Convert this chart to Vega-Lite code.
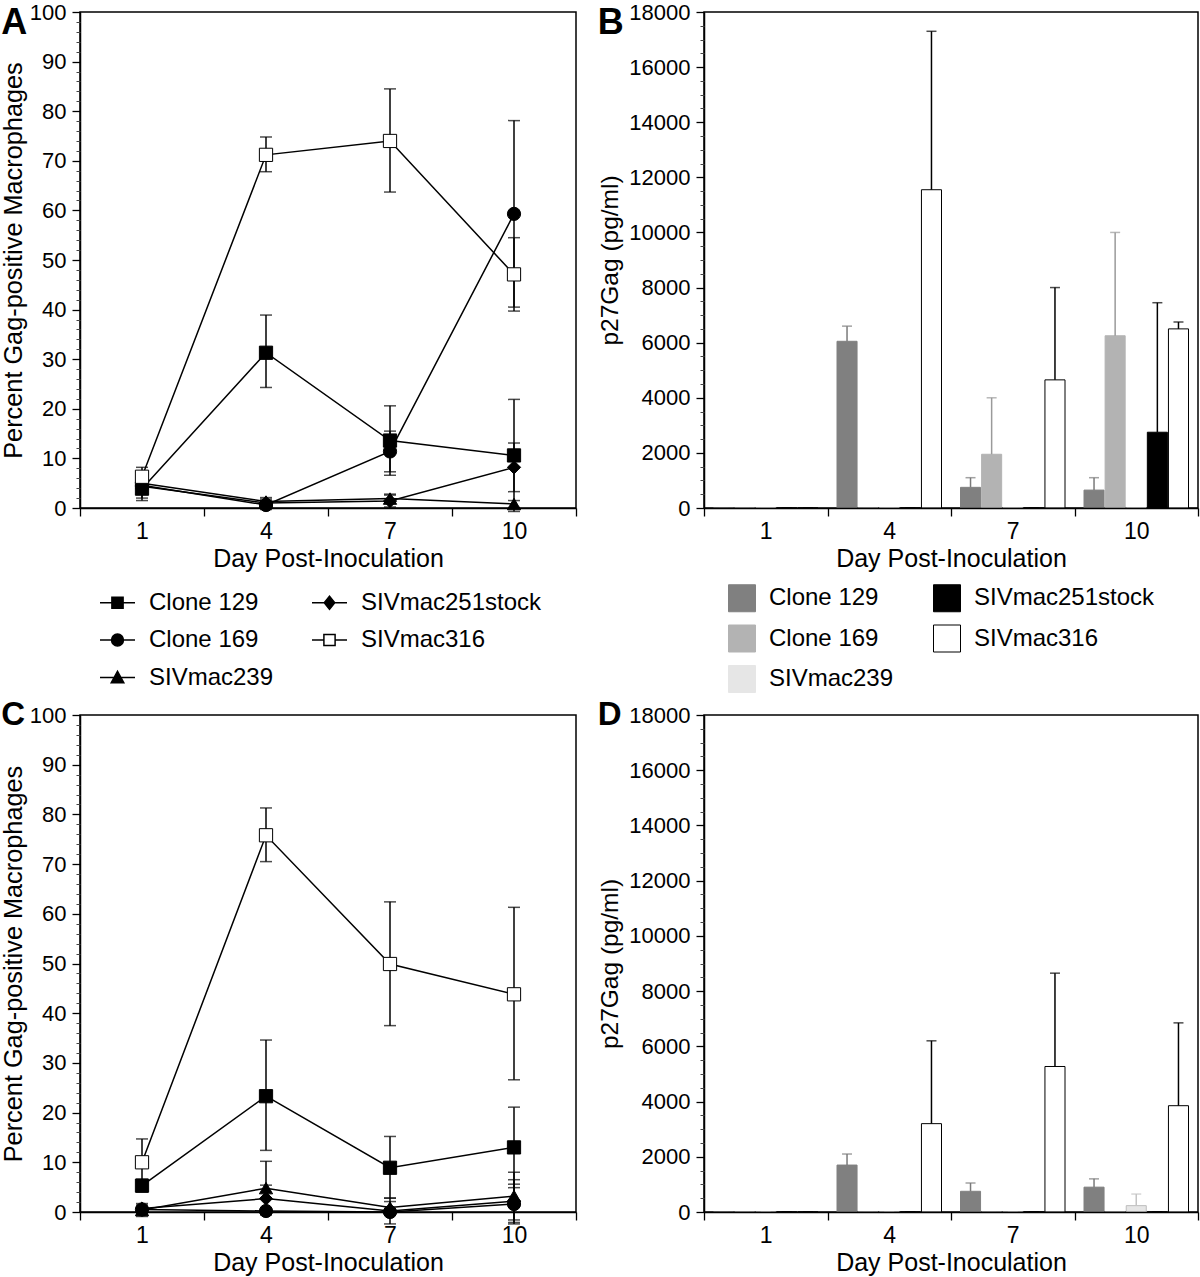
{
  "$schema": "https://vega.github.io/schema/vega-lite/v6.json",
  "padding": {"left": 0, "top": 0, "right": 0, "bottom": 0},
  "background": "white",
  "config": {
    "font": "Liberation Sans",
    "view": {"stroke": "black", "strokeWidth": 1.5},
    "axis": {
      "labelFont": "Liberation Sans", "titleFont": "Liberation Sans",
      "labelColor": "black", "titleColor": "black", "domainColor": "black", "tickColor": "black",
      "labelFontSize": 23, "titleFontSize": 24.5, "titleFontWeight": "normal",
      "grid": false, "domainWidth": 1.5, "tickWidth": 1.3
    },
    "axisX": {"titleFontSize": 25},
    "legend": {"labelFont": "Liberation Sans", "labelFontSize": 24, "labelColor": "black", "labelLimit": 400, "padding": 0},
    "title": {"anchor": "start", "frame": "bounds", "font": "Liberation Sans", "fontWeight": "bold", "color": "black", "offset": 0, "baseline": "alphabetic"}
  },
  "datasets": {
    "lineA": [
      {"day": 1, "series": "Clone 129", "value": 3.9, "lo": 2.0, "hi": 5.8},
      {"day": 4, "series": "Clone 129", "value": 31.3, "lo": 24.3, "hi": 38.9},
      {"day": 7, "series": "Clone 129", "value": 13.6, "lo": 6.6, "hi": 20.6},
      {"day": 10, "series": "Clone 129", "value": 10.6, "lo": -0.7, "hi": 21.9},
      {"day": 1, "series": "Clone 169", "value": 4.6, "lo": 2.8, "hi": 6.4},
      {"day": 4, "series": "Clone 169", "value": 0.6, "lo": -0.3, "hi": 1.5},
      {"day": 7, "series": "Clone 169", "value": 11.4, "lo": 7.3, "hi": 15.5},
      {"day": 10, "series": "Clone 169", "value": 59.3, "lo": 40.5, "hi": 78.1},
      {"day": 1, "series": "SIVmac239", "value": 5.0, "lo": 3.2, "hi": 6.8},
      {"day": 4, "series": "SIVmac239", "value": 1.3, "lo": 0.5, "hi": 2.1},
      {"day": 7, "series": "SIVmac239", "value": 1.9, "lo": 1.0, "hi": 2.8},
      {"day": 10, "series": "SIVmac239", "value": 0.8, "lo": 0.1, "hi": 1.5},
      {"day": 1, "series": "SIVmac251stock", "value": 4.4, "lo": 1.5, "hi": 7.3},
      {"day": 4, "series": "SIVmac251stock", "value": 1.0, "lo": 0.2, "hi": 1.8},
      {"day": 7, "series": "SIVmac251stock", "value": 1.4, "lo": 0.2, "hi": 2.6},
      {"day": 10, "series": "SIVmac251stock", "value": 8.2, "lo": 3.3, "hi": 13.1},
      {"day": 1, "series": "SIVmac316", "value": 6.3, "lo": 4.4, "hi": 8.2},
      {"day": 4, "series": "SIVmac316", "value": 71.2, "lo": 67.8, "hi": 74.8},
      {"day": 7, "series": "SIVmac316", "value": 74.0, "lo": 63.7, "hi": 84.5},
      {"day": 10, "series": "SIVmac316", "value": 47.1, "lo": 39.7, "hi": 54.5}
    ],
    "lineC": [
      {"day": 1, "series": "Clone 129", "value": 5.3, "lo": 4.0, "hi": 6.6},
      {"day": 4, "series": "Clone 129", "value": 23.3, "lo": 12.4, "hi": 34.6},
      {"day": 7, "series": "Clone 129", "value": 8.9, "lo": 2.8, "hi": 15.2},
      {"day": 10, "series": "Clone 129", "value": 13.0, "lo": 4.9, "hi": 21.1},
      {"day": 1, "series": "Clone 169", "value": 0.5, "lo": -0.5, "hi": 1.0},
      {"day": 4, "series": "Clone 169", "value": 0.2, "lo": -0.2, "hi": 0.5},
      {"day": 7, "series": "Clone 169", "value": 0.0, "lo": -0.3, "hi": 0.3},
      {"day": 10, "series": "Clone 169", "value": 1.6, "lo": -2.4, "hi": 5.6},
      {"day": 1, "series": "SIVmac239", "value": 0.4, "lo": -0.9, "hi": 1.7},
      {"day": 4, "series": "SIVmac239", "value": 4.8, "lo": -0.6, "hi": 10.2},
      {"day": 7, "series": "SIVmac239", "value": 0.9, "lo": -0.3, "hi": 2.1},
      {"day": 10, "series": "SIVmac239", "value": 3.2, "lo": -1.6, "hi": 8.0},
      {"day": 1, "series": "SIVmac251stock", "value": 0.7, "lo": 0.0, "hi": 1.4},
      {"day": 4, "series": "SIVmac251stock", "value": 2.7, "lo": 0.0, "hi": 5.4},
      {"day": 7, "series": "SIVmac251stock", "value": 0.2, "lo": -2.4, "hi": 2.8},
      {"day": 10, "series": "SIVmac251stock", "value": 2.2, "lo": -2.1, "hi": 6.5},
      {"day": 1, "series": "SIVmac316", "value": 10.0, "lo": 5.3, "hi": 14.7},
      {"day": 4, "series": "SIVmac316", "value": 75.8, "lo": 70.5, "hi": 81.3},
      {"day": 7, "series": "SIVmac316", "value": 49.9, "lo": 37.5, "hi": 62.4},
      {"day": 10, "series": "SIVmac316", "value": 43.8, "lo": 26.6, "hi": 61.3}
    ],
    "barB": [
      {"day": 1, "series": "Clone 129", "value": 0, "err": 0},
      {"day": 1, "series": "Clone 169", "value": 0, "err": 0},
      {"day": 1, "series": "SIVmac239", "value": 0, "err": 0},
      {"day": 1, "series": "SIVmac251stock", "value": 0, "err": 0},
      {"day": 1, "series": "SIVmac316", "value": 0, "err": 0},
      {"day": 4, "series": "Clone 129", "value": 6050, "err": 6600},
      {"day": 4, "series": "Clone 169", "value": 0, "err": 0},
      {"day": 4, "series": "SIVmac239", "value": 0, "err": 0},
      {"day": 4, "series": "SIVmac251stock", "value": 0, "err": 0},
      {"day": 4, "series": "SIVmac316", "value": 11550, "err": 17300},
      {"day": 7, "series": "Clone 129", "value": 750, "err": 1100},
      {"day": 7, "series": "Clone 169", "value": 1950, "err": 4000},
      {"day": 7, "series": "SIVmac239", "value": 0, "err": 0},
      {"day": 7, "series": "SIVmac251stock", "value": 0, "err": 0},
      {"day": 7, "series": "SIVmac316", "value": 4650, "err": 8000},
      {"day": 10, "series": "Clone 129", "value": 650, "err": 1100},
      {"day": 10, "series": "Clone 169", "value": 6250, "err": 10000},
      {"day": 10, "series": "SIVmac239", "value": 0, "err": 0},
      {"day": 10, "series": "SIVmac251stock", "value": 2750, "err": 7450},
      {"day": 10, "series": "SIVmac316", "value": 6500, "err": 6750}
    ],
    "barD": [
      {"day": 1, "series": "Clone 129", "value": 0, "err": 0},
      {"day": 1, "series": "Clone 169", "value": 0, "err": 0},
      {"day": 1, "series": "SIVmac239", "value": 0, "err": 0},
      {"day": 1, "series": "SIVmac251stock", "value": 0, "err": 0},
      {"day": 1, "series": "SIVmac316", "value": 0, "err": 0},
      {"day": 4, "series": "Clone 129", "value": 1700, "err": 2100},
      {"day": 4, "series": "Clone 169", "value": 0, "err": 0},
      {"day": 4, "series": "SIVmac239", "value": 0, "err": 0},
      {"day": 4, "series": "SIVmac251stock", "value": 0, "err": 0},
      {"day": 4, "series": "SIVmac316", "value": 3200, "err": 6200},
      {"day": 7, "series": "Clone 129", "value": 750, "err": 1050},
      {"day": 7, "series": "Clone 169", "value": 0, "err": 0},
      {"day": 7, "series": "SIVmac239", "value": 0, "err": 0},
      {"day": 7, "series": "SIVmac251stock", "value": 0, "err": 0},
      {"day": 7, "series": "SIVmac316", "value": 5270, "err": 8650},
      {"day": 10, "series": "Clone 129", "value": 900, "err": 1200},
      {"day": 10, "series": "Clone 169", "value": 0, "err": 0},
      {"day": 10, "series": "SIVmac239", "value": 230, "err": 650},
      {"day": 10, "series": "SIVmac251stock", "value": 0, "err": 0},
      {"day": 10, "series": "SIVmac316", "value": 3850, "err": 6850}
    ]
  },
  "vconcat": [
    {
      "hconcat": [
        {
          "width": 496, "height": 496,
          "title": {"text": "A", "fontSize": 36, "dy": 45},
          "data": {"name": "lineA"},
          "layer": [
            {
              "mark": {"type": "line", "color": "black", "strokeWidth": 1.5},
              "encoding": {
                "x": {"field": "day", "type": "ordinal", "scale": {"type": "band", "paddingInner": 0, "paddingOuter": 0},
                      "axis": {"title": "Day Post-Inoculation", "labelAngle": 0, "tickBand": "extent", "tickSize": 8, "labelPadding": 4, "titlePadding": 3}},
                "y": {"field": "value", "type": "quantitative", "scale": {"domain": [0, 100], "nice": false},
                      "axis": {"orient": "left", "title": "Percent Gag-positive Macrophages", "titleFontSize": 25.3, "values": [0,10,20,30,40,50,60,70,80,90,100], "tickSize": 8, "labelPadding": 6, "titlePadding": 3, "labelFontSize": 22}},
                "detail": {"field": "series"}
              }
            },
            {
              "mark": {"type": "rule", "color": "black", "strokeWidth": 1.5},
              "encoding": {
                "x": {"field": "day", "type": "ordinal"},
                "y": {"field": "lo", "type": "quantitative",
                      "axis": {"orient": "left", "title": null, "labels": false, "domain": false, "tickSize": 4, "tickWidth": 1, "tickColor": "#444", "values": [2,4,6,8,12,14,16,18,22,24,26,28,32,34,36,38,42,44,46,48,52,54,56,58,62,64,66,68,72,74,76,78,82,84,86,88,92,94,96,98]}},
                "y2": {"field": "hi"}
              }
            },
            {
              "mark": {"type": "tick", "orient": "horizontal", "size": 12, "thickness": 1.5, "color": "black"},
              "encoding": {"x": {"field": "day", "type": "ordinal"}, "y": {"field": "hi", "type": "quantitative", "axis": null}}
            },
            {
              "mark": {"type": "tick", "orient": "horizontal", "size": 12, "thickness": 1.5, "color": "black"},
              "encoding": {"x": {"field": "day", "type": "ordinal"}, "y": {"field": "lo", "type": "quantitative", "axis": null}}
            },
            {
              "mark": {"type": "point", "filled": true, "stroke": "black", "strokeWidth": 1, "size": 175, "opacity": 1},
              "encoding": {
                "x": {"field": "day", "type": "ordinal"},
                "y": {"field": "value", "type": "quantitative", "axis": null},
                "shape": {"field": "series", "type": "nominal",
                          "scale": {"domain": ["Clone 129", "Clone 169", "SIVmac239", "SIVmac251stock", "SIVmac316"], "range": ["square", "circle", "triangle-up", "diamond", "square"]},
                          "legend": null},
                "fill": {"field": "series", "type": "nominal",
                         "scale": {"domain": ["Clone 129", "Clone 169", "SIVmac239", "SIVmac251stock", "SIVmac316"], "range": ["black", "black", "black", "black", "white"]},
                         "legend": null}
              }
            },
            {
              "mark": {"type": "point", "filled": true, "strokeWidth": 1.5, "opacity": 0},
              "encoding": {
                "x": {"field": "day", "type": "ordinal"},
                "y": {"field": "value", "type": "quantitative", "axis": null},
                "shape": {"field": "series", "type": "nominal",
                          "scale": {"domain": ["Clone 129", "Clone 169", "SIVmac239", "SIVmac251stock", "SIVmac316"],
                                    "range": ["M-1,0H1M-0.32,-0.32H0.32V0.32H-0.32Z", "M-1,0H1M-0.34,0A0.34,0.34 0 1,0 0.34,0A0.34,0.34 0 1,0 -0.34,0Z", "M-1,0H1M-0.36,0.3L0,-0.36L0.36,0.3Z", "M-1,0H1M0,-0.38L0.3,0L0,0.38L-0.3,0Z", "M-1,0H-0.32M0.32,0H1M-0.32,-0.32H0.32V0.32H-0.32Z"]},
                          "legend": {"orient": "none", "legendX": 19, "legendY": 572, "columns": 2, "title": null, "symbolSize": 1225, "symbolOpacity": 1, "symbolStrokeWidth": 1.5, "labelOffset": 13, "rowPadding": 6.5, "columnPadding": 35}},
                "fill": {"field": "series", "type": "nominal",
                         "scale": {"domain": ["Clone 129", "Clone 169", "SIVmac239", "SIVmac251stock", "SIVmac316"], "range": ["black", "black", "black", "black", "white"]},
                         "legend": {"orient": "none", "legendX": 19, "legendY": 572, "columns": 2, "title": null, "symbolSize": 1225, "symbolOpacity": 1, "symbolStrokeWidth": 1.5, "labelOffset": 13, "rowPadding": 6.5, "columnPadding": 35}},
                "stroke": {"field": "series", "type": "nominal",
                           "scale": {"domain": ["Clone 129", "Clone 169", "SIVmac239", "SIVmac251stock", "SIVmac316"], "range": ["black", "black", "black", "black", "black"]},
                           "legend": {"orient": "none", "legendX": 19, "legendY": 572, "columns": 2, "title": null, "symbolSize": 1225, "symbolOpacity": 1, "symbolStrokeWidth": 1.5, "labelOffset": 13, "rowPadding": 6.5, "columnPadding": 35}}
              }
            }
          ],
          "resolve": {"axis": {"y": "independent"}, "scale": {"shape": "independent", "fill": "independent", "stroke": "independent"}}
        },
        {
          "width": 494, "height": 496,
          "title": {"text": "B", "fontSize": 36, "dy": 45},
          "data": {"name": "barB"},
          "layer": [
            {
              "mark": {"type": "bar"},
              "encoding": {
                "x": {"field": "day", "type": "ordinal", "scale": {"type": "band", "paddingInner": 0, "paddingOuter": 0},
                      "axis": {"title": "Day Post-Inoculation", "labelAngle": 0, "tickBand": "extent", "tickSize": 8, "labelPadding": 4, "titlePadding": 3, "zindex": 1}},
                "xOffset": {"field": "series", "type": "nominal", "scale": {"domain": ["Clone 129", "Clone 169", "SIVmac239", "SIVmac251stock", "SIVmac316"], "paddingInner": 0.05, "paddingOuter": 0.45}},
                "y": {"field": "value", "type": "quantitative", "scale": {"domain": [0, 18000], "nice": false},
                      "axis": {"orient": "left", "title": "p27Gag (pg/ml)", "format": "d", "values": [0,2000,4000,6000,8000,10000,12000,14000,16000,18000], "tickSize": 8, "labelPadding": 6, "titlePadding": 6, "labelFontSize": 22}},
                "fill": {"field": "series", "type": "nominal",
                         "scale": {"domain": ["Clone 129", "Clone 169", "SIVmac239", "SIVmac251stock", "SIVmac316"], "range": ["#808080", "#b3b3b3", "#e6e6e6", "#000000", "#ffffff"]},
                         "legend": {"orient": "none", "legendX": 24, "legendY": 572, "columns": 2, "title": null, "symbolType": "square", "symbolSize": 729, "symbolStrokeWidth": 2.5, "symbolOpacity": 1, "labelOffset": 13, "rowPadding": 8.5, "columnPadding": 37}},
                "stroke": {"field": "series", "type": "nominal",
                           "scale": {"domain": ["Clone 129", "Clone 169", "SIVmac239", "SIVmac251stock", "SIVmac316"], "range": ["#808080", "#b3b3b3", "#e6e6e6", "#000000", "#000000"]},
                           "legend": null},
                "strokeWidth": {"field": "series", "type": "nominal",
                                "scale": {"domain": ["Clone 129", "Clone 169", "SIVmac239", "SIVmac251stock", "SIVmac316"], "range": [1, 1, 1, 1, 2.8]},
                                "legend": null}
              }
            },
            {
              "mark": {"type": "rule", "strokeWidth": 1.5},
              "encoding": {
                "x": {"field": "day", "type": "ordinal"},
                "xOffset": {"field": "series", "type": "nominal"},
                "y": {"field": "value", "type": "quantitative",
                      "axis": {"orient": "left", "title": null, "labels": false, "domain": false, "tickSize": 4, "tickWidth": 1, "tickColor": "#444", "values": [500,1000,1500,2500,3000,3500,4500,5000,5500,6500,7000,7500,8500,9000,9500,10500,11000,11500,12500,13000,13500,14500,15000,15500,16500,17000,17500]}},
                "y2": {"field": "err"},
                "color": {"field": "series", "type": "nominal",
                          "scale": {"domain": ["Clone 129", "Clone 169", "SIVmac239", "SIVmac251stock", "SIVmac316"], "range": ["#7a7a7a", "#9a9a9a", "#c4c4c4", "#000000", "#000000"]},
                          "legend": null}
              }
            },
            {
              "mark": {"type": "tick", "orient": "horizontal", "size": 10, "thickness": 1.5},
              "encoding": {
                "x": {"field": "day", "type": "ordinal"},
                "xOffset": {"field": "series", "type": "nominal"},
                "y": {"field": "err", "type": "quantitative", "axis": null},
                "color": {"field": "series", "type": "nominal", "legend": null}
              }
            }
          ],
          "resolve": {"axis": {"y": "independent"}}
        }
      ],
      "spacing": 19,
      "resolve": {"scale": {"fill": "independent", "shape": "independent", "color": "independent", "stroke": "independent", "strokeWidth": "independent"}, "legend": {"fill": "independent", "shape": "independent", "stroke": "independent"}}
    },
    {
      "hconcat": [
        {
          "width": 496, "height": 497,
          "title": {"text": "C", "fontSize": 33, "dy": 32},
          "data": {"name": "lineC"},
          "layer": [
            {
              "mark": {"type": "line", "color": "black", "strokeWidth": 1.5},
              "encoding": {
                "x": {"field": "day", "type": "ordinal", "scale": {"type": "band", "paddingInner": 0, "paddingOuter": 0},
                      "axis": {"title": "Day Post-Inoculation", "labelAngle": 0, "tickBand": "extent", "tickSize": 8, "labelPadding": 4, "titlePadding": 3}},
                "y": {"field": "value", "type": "quantitative", "scale": {"domain": [0, 100], "nice": false},
                      "axis": {"orient": "left", "title": "Percent Gag-positive Macrophages", "titleFontSize": 25.3, "values": [0,10,20,30,40,50,60,70,80,90,100], "tickSize": 8, "labelPadding": 6, "titlePadding": 3, "labelFontSize": 22}},
                "detail": {"field": "series"}
              }
            },
            {
              "mark": {"type": "rule", "color": "black", "strokeWidth": 1.5},
              "encoding": {
                "x": {"field": "day", "type": "ordinal"},
                "y": {"field": "lo", "type": "quantitative",
                      "axis": {"orient": "left", "title": null, "labels": false, "domain": false, "tickSize": 4, "tickWidth": 1, "tickColor": "#444", "values": [2,4,6,8,12,14,16,18,22,24,26,28,32,34,36,38,42,44,46,48,52,54,56,58,62,64,66,68,72,74,76,78,82,84,86,88,92,94,96,98]}},
                "y2": {"field": "hi"}
              }
            },
            {
              "mark": {"type": "tick", "orient": "horizontal", "size": 12, "thickness": 1.5, "color": "black"},
              "encoding": {"x": {"field": "day", "type": "ordinal"}, "y": {"field": "hi", "type": "quantitative", "axis": null}}
            },
            {
              "mark": {"type": "tick", "orient": "horizontal", "size": 12, "thickness": 1.5, "color": "black"},
              "encoding": {"x": {"field": "day", "type": "ordinal"}, "y": {"field": "lo", "type": "quantitative", "axis": null}}
            },
            {
              "mark": {"type": "point", "filled": true, "stroke": "black", "strokeWidth": 1, "size": 175, "opacity": 1},
              "encoding": {
                "x": {"field": "day", "type": "ordinal"},
                "y": {"field": "value", "type": "quantitative", "axis": null},
                "shape": {"field": "series", "type": "nominal",
                          "scale": {"domain": ["Clone 129", "Clone 169", "SIVmac239", "SIVmac251stock", "SIVmac316"], "range": ["square", "circle", "triangle-up", "diamond", "square"]},
                          "legend": null},
                "fill": {"field": "series", "type": "nominal",
                         "scale": {"domain": ["Clone 129", "Clone 169", "SIVmac239", "SIVmac251stock", "SIVmac316"], "range": ["black", "black", "black", "black", "white"]},
                         "legend": null}
              }
            }
          ],
          "resolve": {"axis": {"y": "independent"}}
        },
        {
          "width": 494, "height": 497,
          "title": {"text": "D", "fontSize": 33, "dy": 32},
          "data": {"name": "barD"},
          "layer": [
            {
              "mark": {"type": "bar"},
              "encoding": {
                "x": {"field": "day", "type": "ordinal", "scale": {"type": "band", "paddingInner": 0, "paddingOuter": 0},
                      "axis": {"title": "Day Post-Inoculation", "labelAngle": 0, "tickBand": "extent", "tickSize": 8, "labelPadding": 4, "titlePadding": 3, "zindex": 1}},
                "xOffset": {"field": "series", "type": "nominal", "scale": {"domain": ["Clone 129", "Clone 169", "SIVmac239", "SIVmac251stock", "SIVmac316"], "paddingInner": 0.05, "paddingOuter": 0.45}},
                "y": {"field": "value", "type": "quantitative", "scale": {"domain": [0, 18000], "nice": false},
                      "axis": {"orient": "left", "title": "p27Gag (pg/ml)", "format": "d", "values": [0,2000,4000,6000,8000,10000,12000,14000,16000,18000], "tickSize": 8, "labelPadding": 6, "titlePadding": 6, "labelFontSize": 22}},
                "fill": {"field": "series", "type": "nominal",
                         "scale": {"domain": ["Clone 129", "Clone 169", "SIVmac239", "SIVmac251stock", "SIVmac316"], "range": ["#808080", "#b3b3b3", "#e6e6e6", "#000000", "#ffffff"]},
                         "legend": null},
                "stroke": {"field": "series", "type": "nominal",
                           "scale": {"domain": ["Clone 129", "Clone 169", "SIVmac239", "SIVmac251stock", "SIVmac316"], "range": ["#808080", "#b3b3b3", "#bdbdbd", "#000000", "#000000"]},
                           "legend": null},
                "strokeWidth": {"field": "series", "type": "nominal",
                                "scale": {"domain": ["Clone 129", "Clone 169", "SIVmac239", "SIVmac251stock", "SIVmac316"], "range": [1, 1, 1, 1, 1.6]},
                                "legend": null}
              }
            },
            {
              "mark": {"type": "rule", "strokeWidth": 1.5},
              "encoding": {
                "x": {"field": "day", "type": "ordinal"},
                "xOffset": {"field": "series", "type": "nominal"},
                "y": {"field": "value", "type": "quantitative",
                      "axis": {"orient": "left", "title": null, "labels": false, "domain": false, "tickSize": 4, "tickWidth": 1, "tickColor": "#444", "values": [500,1000,1500,2500,3000,3500,4500,5000,5500,6500,7000,7500,8500,9000,9500,10500,11000,11500,12500,13000,13500,14500,15000,15500,16500,17000,17500]}},
                "y2": {"field": "err"},
                "color": {"field": "series", "type": "nominal",
                          "scale": {"domain": ["Clone 129", "Clone 169", "SIVmac239", "SIVmac251stock", "SIVmac316"], "range": ["#7a7a7a", "#9a9a9a", "#c4c4c4", "#000000", "#000000"]},
                          "legend": null}
              }
            },
            {
              "mark": {"type": "tick", "orient": "horizontal", "size": 10, "thickness": 1.5},
              "encoding": {
                "x": {"field": "day", "type": "ordinal"},
                "xOffset": {"field": "series", "type": "nominal"},
                "y": {"field": "err", "type": "quantitative", "axis": null},
                "color": {"field": "series", "type": "nominal", "legend": null}
              }
            }
          ],
          "resolve": {"axis": {"y": "independent"}}
        }
      ],
      "spacing": 19,
      "resolve": {"scale": {"fill": "independent", "shape": "independent", "color": "independent", "stroke": "independent", "strokeWidth": "independent"}, "legend": {"fill": "independent", "shape": "independent", "stroke": "independent"}}
    }
  ],
  "spacing": 2,
  "resolve": {"scale": {"fill": "independent", "shape": "independent", "color": "independent", "stroke": "independent", "strokeWidth": "independent"}, "legend": {"fill": "independent", "shape": "independent", "stroke": "independent"}}
}
